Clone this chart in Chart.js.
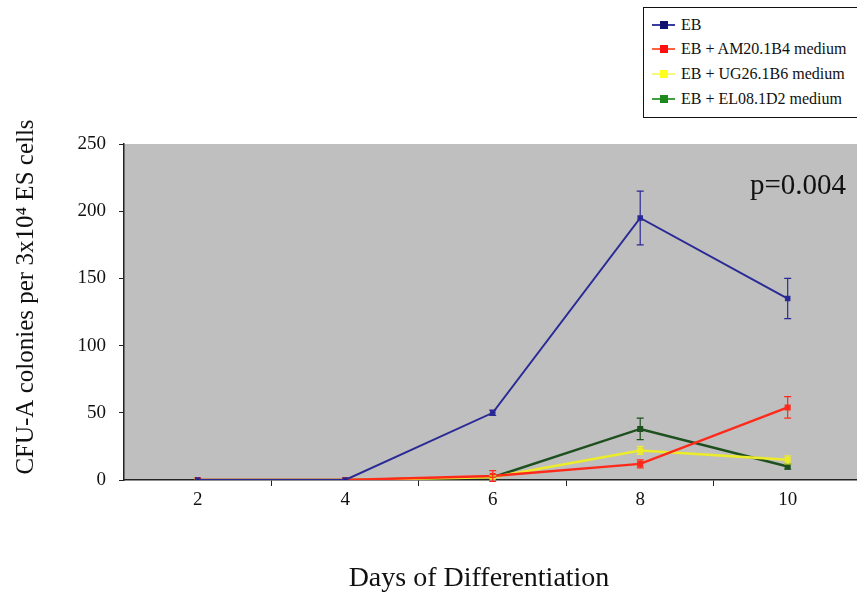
<!DOCTYPE html>
<html>
<head>
<meta charset="utf-8">
<script src="https://cdn.jsdelivr.net/npm/chart.js@4"></script>
<style>
html,body{margin:0;padding:0;background:#fff;}
#wrap{position:relative;width:857px;height:595px;overflow:hidden;}
#legend{position:absolute;left:643px;top:7px;width:230px;height:111px;border:1.5px solid #111;background:#fff;box-sizing:border-box;font-family:"Liberation Serif","DejaVu Serif",serif;font-size:16px;color:#111;}
.row{position:absolute;left:0;height:20px;line-height:20px;white-space:nowrap;}
.mk{position:absolute;left:8px;top:9px;width:23px;height:2px;}
.sq{position:absolute;left:16px;top:6px;width:8px;height:8px;}
.tx{position:absolute;left:37px;top:0;}
</style>
</head>
<body>
<div id="wrap">
<canvas id="c" width="857" height="595"></canvas>
<div id="legend"></div>
</div>
<script>
// ---- data ----
const days = [2, 4, 6, 8, 10];
const seriesNames = ["EB", "EB + AM20.1B4 medium", "EB + UG26.1B6 medium", "EB + EL08.1D2 medium"];
const ebValues = [0, 0, 50, 195, 135];
const ebErrors = [0, 0, 2, 20, 15];
const am20Values = [0, 0, 3, 12, 54];
const am20Errors = [0, 0, 4, 3, 8];
const ug26Values = [0, 0, 2, 22, 15];
const ug26Errors = [0, 0, 1, 3, 3];
const el08Values = [0, 0, 2, 38, 10];
const el08Errors = [0, 0, 1, 8, 2];
const yTicks = [0, 50, 100, 150, 200, 250];
const pValueText = "p=0.004";
const xTitle = "Days of Differentiation";
const yTitle = "CFU-A colonies per 3x10\u2074 ES cells";

const lineColors = ["#2a2a96", "#ff2a1a", "#ecec2a", "#1e4f1e"];
const markerColors = ["#101070", "#ff1010", "#ffff20", "#1e8a1e"];
const legendLineColors = ["#3a3aa0", "#ff6040", "#f8f880", "#40a040"];
const valuesList = [ebValues, am20Values, ug26Values, el08Values];
const errorsList = [ebErrors, am20Errors, ug26Errors, el08Errors];

const datasets = valuesList.map((vals, i) => ({
  label: seriesNames[i],
  data: days.map((d, j) => ({x: d, y: vals[j]})),
  errors: errorsList[i],
  borderColor: lineColors[i],
  backgroundColor: markerColors[i],
  pointBorderColor: lineColors[i],
  borderWidth: i === 0 ? 2 : 2.5,
  pointStyle: 'rect',
  pointRadius: 2.5,
  tension: 0
}));

const serif = '"Liberation Serif","DejaVu Serif",serif';

const bgPlugin = {
  id: 'bg',
  beforeDraw(chart) {
    const a = chart.chartArea, ctx = chart.ctx;
    ctx.save();
    ctx.fillStyle = '#bfbfbf';
    ctx.fillRect(a.left, a.top, a.right - a.left, a.bottom - a.top);
    ctx.restore();
  }
};

const errPlugin = {
  id: 'errbars',
  afterDatasetsDraw(chart) {
    const ctx = chart.ctx, xs = chart.scales.x, ys = chart.scales.y;
    ctx.save();
    for (let i = chart.data.datasets.length - 1; i >= 0; i--) {
      const ds = chart.data.datasets[i];
      ctx.strokeStyle = ds.borderColor;
      ctx.lineWidth = 1.2;
      ds.data.forEach((p, j) => {
        const e = ds.errors[j];
        if (!e) return;
        const x = xs.getPixelForValue(p.x);
        const y1 = ys.getPixelForValue(p.y + e), y2 = ys.getPixelForValue(p.y - e);
        ctx.beginPath();
        ctx.moveTo(x, y1); ctx.lineTo(x, y2);
        ctx.moveTo(x - 3.5, y1); ctx.lineTo(x + 3.5, y1);
        ctx.moveTo(x - 3.5, y2); ctx.lineTo(x + 3.5, y2);
        ctx.stroke();
      });
    }
    ctx.restore();
  }
};

const textPlugin = {
  id: 'ptext',
  afterDraw(chart) {
    const ctx = chart.ctx;
    ctx.save();
    ctx.fillStyle = '#111';
    ctx.font = '29px ' + serif;
    ctx.textAlign = 'right';
    ctx.textBaseline = 'alphabetic';
    ctx.fillText(pValueText, 846, 194);
    // x axis title
    ctx.textAlign = 'center';
    ctx.font = '28px ' + serif;
    ctx.fillText(xTitle, 479, 586);
    // y axis title
    ctx.translate(26, 297);
    ctx.rotate(-Math.PI / 2);
    ctx.textBaseline = 'middle';
    ctx.font = '25px ' + serif;
    ctx.fillText(yTitle, 0, 0);
    ctx.restore();
  }
};

new Chart(document.getElementById('c'), {
  type: 'line',
  data: {datasets},
  options: {
    responsive: false,
    animation: false,
    layout: {autoPadding: false, padding: {top: 144, right: 0, left: 0, bottom: 0}},
    plugins: {legend: {display: false}, tooltip: {enabled: false}},
    scales: {
      x: {
        type: 'linear',
        min: 1,
        max: 10.94,
        afterBuildTicks(s) { s.ticks = [3, 2, 4, 6, 8, 10, 5, 7, 9].map(v => ({value: v})); },
        afterFit(s) { s.height = 115; s.paddingRight = 0; s.paddingLeft = 0; },
        grid: {
          drawOnChartArea: false,
          tickLength: 6,
          tickColor: c => (c.tick && c.tick.value % 2 === 1) ? '#222' : 'rgba(0,0,0,0)'
        },
        border: {color: '#222', width: 1.5},
        ticks: {
          autoSkip: false,
          maxRotation: 0,
          padding: 3,
          color: '#111',
          font: {family: serif, size: 19},
          callback: v => (v % 2 === 0 ? String(v) : '')
        }
      },
      y: {
        min: 0,
        max: 250,
        afterBuildTicks(s) { s.ticks = yTicks.map(v => ({value: v})); },
        afterFit(s) { s.width = 124; },
        grid: {drawOnChartArea: false, tickLength: 5, tickColor: '#222'},
        border: {color: '#222', width: 1.5},
        ticks: {
          padding: 13,
          color: '#111',
          font: {family: serif, size: 19}
        }
      }
    }
  },
  plugins: [bgPlugin, errPlugin, textPlugin]
});

// HTML legend built from series arrays
const lg = document.getElementById('legend');
const rowTops = [7, 31, 56, 81];
seriesNames.forEach((name, i) => {
  const r = document.createElement('div');
  r.className = 'row';
  r.style.top = rowTops[i] + 'px';
  r.innerHTML = '<div class="mk" style="background:' + legendLineColors[i] + '"></div>' +
    '<div class="sq" style="background:' + markerColors[i] + '"></div>' +
    '<div class="tx"></div>';
  r.querySelector('.tx').textContent = name;
  lg.appendChild(r);
});
</script>
</body>
</html>
